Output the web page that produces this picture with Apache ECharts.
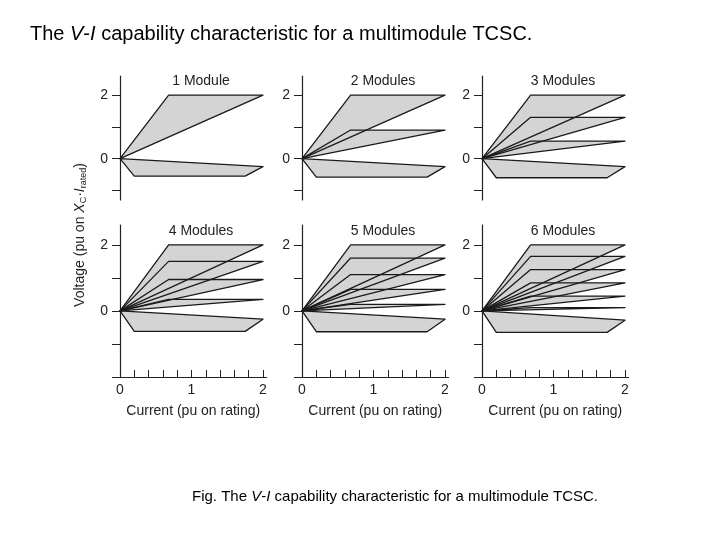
<!DOCTYPE html>
<html><head><meta charset="utf-8">
<script src="https://cdn.jsdelivr.net/npm/echarts@6/dist/echarts.min.js"></script>
<style>body{margin:0;background:#fff}#c{width:720px;height:540px}</style></head>
<body><div id="c"></div>
<script>
const panelTitles = ['1 Module','2 Modules','3 Modules','4 Modules','5 Modules','6 Modules'];
const panelLevels = [
  [2, -0.25],
  [2, 0.9, -0.25],
  [2, 1.3, 0.55, -0.25],
  [2, 1.5, 0.95, 0.35, -0.25],
  [2, 1.6, 1.1, 0.65, 0.2, -0.25],
  [2, 1.65, 1.25, 0.85, 0.45, 0.1, -0.28]
];
const cornerX = 0.68;
const rightX = 2;
const inductiveBottom = [-0.55, -0.58, -0.6, -0.62, -0.63, -0.65];
const inductiveXs = [0.2, 1.75];
const xTicks = [0, 1, 2];
const yTickLabels = [0, 2];

const lefts = [120, 302, 482];
const pxPerUnit = 71.5;
const chart = echarts.init(document.getElementById('c'));
const grids = [], xAxes = [], yAxes = [], series = [], titles = [];
for (let p = 0; p < 6; p++) {
  const row = Math.floor(p / 3), col = p % 3;
  const top = row === 0 ? 76 : 225;
  const bottom = row === 0 ? 540 - 200 : 540 - 377;
  grids.push({left: lefts[col], width: 2.05 * pxPerUnit, top: top, bottom: bottom});
  xAxes.push({gridIndex: p, type: 'value', min: 0, max: 2.05, show: row === 1,
    axisLine: {show: true, onZero: false, lineStyle: {color: '#222', width: 1.2}},
    axisTick: {show: true, inside: true, length: 7, customValues: [0,0.2,0.4,0.6,0.8,1,1.2,1.4,1.6,1.8,2], lineStyle: {color: '#222'}},
    axisLabel: {customValues: xTicks, color: '#222', fontSize: 14, fontFamily: 'Liberation Sans', margin: 6},
    splitLine: {show: false},
    name: row === 1 ? 'Current (pu on rating)' : '', nameLocation: 'middle', nameGap: 27,
    nameTextStyle: {color: '#222', fontSize: 14, fontFamily: 'Liberation Sans'}
  });
  yAxes.push({gridIndex: p, type: 'value', min: row === 0 ? -1.3 : -2, max: 2.6,
    axisLine: {show: true, onZero: false, lineStyle: {color: '#222', width: 1.2}},
    axisTick: {show: true, length: 8, customValues: row === 0 ? [-1,0,1,2] : [-2,-1,0,1,2], lineStyle: {color: '#222'}},
    axisLabel: {customValues: yTickLabels, color: '#222', fontSize: 14, fontFamily: 'Liberation Sans', margin: 12},
    splitLine: {show: false}
  });
  titles.push({text: panelTitles[p], left: lefts[col] + 76, top: row === 0 ? 69 : 219, textAlign: 'center',
    textStyle: {fontSize: 14, fontWeight: 'normal', color: '#222', fontFamily: 'Liberation Sans'}});
  const levels = panelLevels[p];
  const polys = [];
  levels.forEach(v => {
    if (v > 0) polys.push([[0,0],[cornerX,v],[rightX,v]]);
    else polys.push([[0,0],[rightX,v],[inductiveXs[1],inductiveBottom[p]],[inductiveXs[0],inductiveBottom[p]]]);
  });
  const mk = (fill) => ({
    type: 'custom', xAxisIndex: p, yAxisIndex: p, silent: true, clip: false,
    data: polys.map((_, i) => [0, 0, i]),
    encode: {x: 0, y: 1},
    renderItem: (params, api) => {
      const poly = polys[api.value(2)];
      const pts = poly.map(q => api.coord(q));
      return {type: 'polygon', shape: {points: pts},
        style: fill ? {fill: '#d4d4d4', stroke: null} : {fill: null, stroke: '#1a1a1a', lineWidth: 1.3, lineJoin: 'round'}};
    }
  });
  series.push(mk(true));
  series.push(mk(false));
}
titles.push({text: 'The {i|V}-{i|I} capability characteristic for a multimodule TCSC.', left: 25, top: 19,
  textStyle: {fontSize: 20, fontWeight: 'normal', color: '#000', fontFamily: 'Liberation Sans',
    rich: {i: {fontSize: 20, fontStyle: 'italic', fontFamily: 'Liberation Sans', color: '#000'}}}});
titles.push({text: 'Fig. The {i|V}-{i|I} capability characteristic for a multimodule TCSC.', left: 390, top: 484, textAlign: 'center',
  textStyle: {fontSize: 15, fontWeight: 'normal', color: '#000', fontFamily: 'Liberation Sans',
    rich: {i: {fontSize: 15, fontStyle: 'italic', fontFamily: 'Liberation Sans', color: '#000'}}}});
chart.setOption({
  animation: false,
  title: titles,
  grid: grids, xAxis: xAxes, yAxis: yAxes, series: series,
  graphic: [{type: 'text', x: 80, y: 235, rotation: Math.PI / 2, originX: 0, originY: 0,
    style: {text: 'Voltage (pu on {i|X}{s|C}·{i|I}{s|rated})', fill: '#222', fontSize: 14, fontFamily: 'Liberation Sans',
      align: 'center', verticalAlign: 'middle',
      rich: {i: {fontStyle: 'italic', fontSize: 14, fontFamily: 'Liberation Sans', fill: '#222'},
             s: {fontSize: 9, fontFamily: 'Liberation Sans', fill: '#222', padding: [8,0,0,0]}}}}]
});
</script></body></html>
